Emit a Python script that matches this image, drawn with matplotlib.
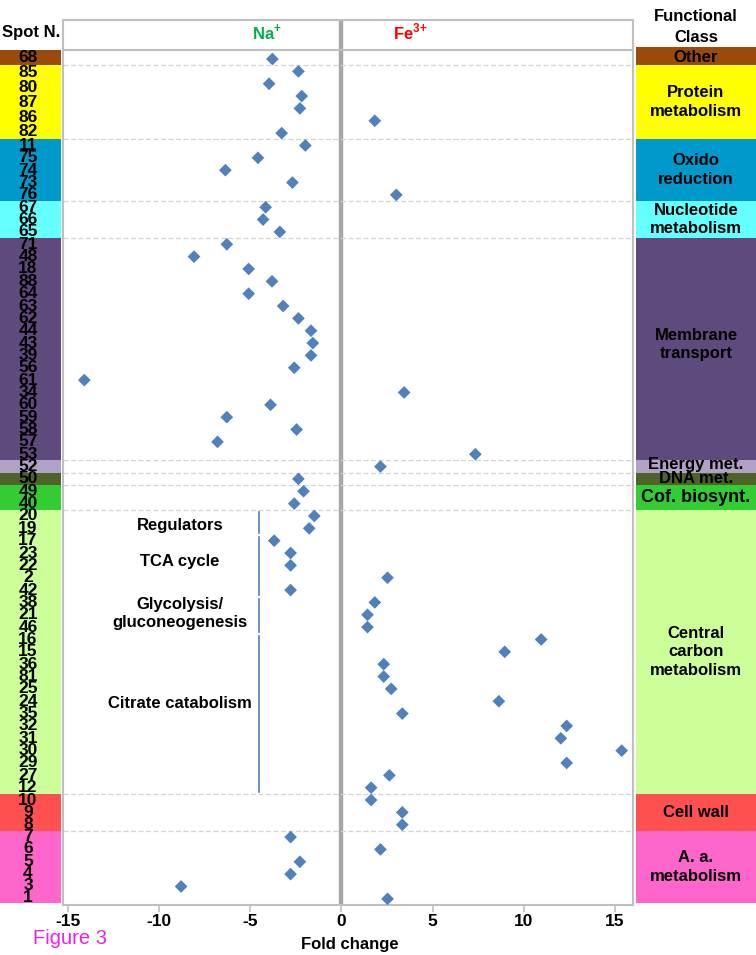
import matplotlib
matplotlib.use("Agg")
import matplotlib.pyplot as plt

plt.rcParams['font.family'] = ['Liberation Sans', 'DejaVu Sans']
plt.rcParams['mathtext.fontset'] = 'custom'
plt.rcParams['mathtext.rm'] = 'Liberation Sans'
plt.rcParams['mathtext.bf'] = 'Liberation Sans:bold'

# ---------------- data ----------------
class_names = ["Other", "Protein\nmetabolism", "Oxido\nreduction", "Nucleotide\nmetabolism",
               "Membrane\ntransport", "Energy met.", "DNA met.", "Cof. biosynt.",
               "Central\ncarbon\nmetabolism", "Cell wall", "A. a.\nmetabolism"]
class_colors = ["#9A4A0A", "#FFFF00", "#0099CC", "#66FFFF", "#5E4A7D", "#B2A1C7",
                "#4F6228", "#33CC33", "#CCFF99", "#FF5050", "#FF66CC"]

spots_other = ["68"]
spots_protein = ["85", "80", "87", "86", "82"]
spots_oxido = ["11", "75", "74", "73", "76"]
spots_nucleotide = ["67", "66", "65"]
spots_membrane = ["71", "48", "18", "88", "64", "63", "62", "44", "43", "39", "56", "61",
                  "34", "60", "59", "58", "57", "53"]
spots_energy = ["52"]
spots_dna = ["50"]
spots_cofactor = ["49", "40"]
spots_central = ["20", "19", "17", "23", "22", "2", "42", "38", "21", "46", "16", "15",
                 "36", "81", "25", "24", "35", "32", "31", "30", "29", "27", "12"]
spots_cellwall = ["10", "9", "8"]
spots_aa = ["7", "6", "5", "4", "3", "1"]

fc_other = [-3.79]
fc_protein = [-2.36, -3.97, -2.18, -2.28, 1.83, -3.28]
fc_oxido = [-1.98, -4.58, -6.37, -2.69, 3.01]
fc_nucleotide = [-4.16, -4.30, -3.38]
fc_membrane = [-6.29, -8.09, -5.09, -3.81, -5.09, -3.20, -2.36, -1.67, -1.57, -1.67,
               -2.59, -14.11, 3.44, -3.89, -6.29, -2.46, -6.80, 7.35]
fc_energy = [2.14]
fc_dna = [-2.36]
fc_cofactor = [-2.08, -2.59]
fc_central = [-1.49, -1.77, -3.69, -2.79, -2.79, 2.53, -2.79, 1.83, 1.43, 1.43, 10.96,
              8.96, 2.32, 2.32, 2.73, 8.64, 3.34, 12.36, 12.04, 15.38, 12.36, 2.63, 1.63]
fc_cellwall = [1.63, 3.34, 3.34]
fc_aa = [-2.79, 2.14, -2.28, -2.79, -8.80, 2.53]

spot_groups = [spots_other, spots_protein, spots_oxido, spots_nucleotide, spots_membrane,
               spots_energy, spots_dna, spots_cofactor, spots_central, spots_cellwall, spots_aa]
fc_groups = [fc_other, fc_protein, fc_oxido, fc_nucleotide, fc_membrane, fc_energy,
             fc_dna, fc_cofactor, fc_central, fc_cellwall, fc_aa]

# sub-categories inside central carbon metabolism (number of rows each)
sub_names = ["Regulators", "TCA cycle", "Glycolysis/\ngluconeogenesis", "Citrate catabolism"]
sub_sizes = [2, 5, 3, 13]

xticks = [-15, -10, -5, 0, 5, 10, 15]
xtick_labels = ["-15", "-10", "-5", "0", "5", "10", "15"]

# ---------------- layout ----------------
W, H = 756, 955
fig = plt.figure(figsize=(W / 100, H / 100), dpi=100)


def px_axes(x0, y0, x1, y1):
    return fig.add_axes([x0 / W, 1 - y1 / H, (x1 - x0) / W, (y1 - y0) / H])


ax = px_axes(63, 20, 633, 905)
axL = px_axes(0, 20, 61, 905)
axR = px_axes(636, 20, 756, 905)

YTOP, YBOT = -3.16, 68.5
HEADER = -0.73
for a in (ax, axL, axR):
    a.set_ylim(YBOT, YTOP)
for a in (axL, axR):
    a.set_xlim(0, 1)
    a.axis('off')

ax.set_xlim(-15.28, 16.0)
GRAY = "#BFBFBF"
for s in ax.spines.values():
    s.set_color(GRAY)
    s.set_linewidth(1.5)
ax.set_yticks([])
ax.set_xticks(xticks)
ax.set_xticklabels(xtick_labels, fontweight='bold', fontsize=12.5)
ax.tick_params(axis='x', direction='out', length=5, width=1.2, color=GRAY, pad=1.5)

ax.axvline(0, color="#A6A6A6", lw=3.2, zorder=1)
ax.axhline(HEADER, color=GRAY, lw=1.5, zorder=1)

total_rows = sum(len(v) for v in fc_groups)
start = 0
for gi, (name, col, spots, vals) in enumerate(zip(class_names, class_colors, spot_groups, fc_groups)):
    n = len(vals)
    ys = list(range(start, start + n))
    ax.scatter(vals, ys, marker='D', s=42, color="#4F81BD", edgecolors='none', zorder=3)
    top = HEADER if gi == 0 else start - 0.5
    bot = 68.35 if start + n == total_rows else start + n - 0.5
    axL.axhspan(top, bot, color=col, lw=0)
    axR.axhspan(top - (0.22 if gi == 0 else 0), bot, color=col, lw=0)
    k = len(spots)
    for i, lab in enumerate(spots):
        yy = top + (i + 0.5) * (bot - top) / k
        axL.text(0.46, yy, lab, ha='center', va='center', fontsize=12.5, fontweight='bold',
                 color='black')
    ry = (top + bot) / 2
    if name.startswith("Membrane"):
        ry -= 0.4
    if name.startswith("Energy"):
        ry -= 0.2
    axR.text(0.5, ry, name, ha='center', va='center',
             fontsize=13 if name.startswith("Cof") else 12,
             fontweight='bold', color='black', linespacing=1.3)
    if start + n < total_rows:
        ax.axhline(start + n - 0.5, color="#D4D4D4", lw=0.9, ls=(0, (4, 2)), zorder=1)
    if name.startswith("Central"):
        s0 = start
        sub_text_y = [0.3, -0.35, -0.1, -0.8]
        for sn, sz, dy in zip(sub_names, sub_sizes, sub_text_y):
            ax.plot([-4.52, -4.52], [s0 - 0.3, s0 + sz - 1 + 0.37], color="#4F81BD", lw=1.2, zorder=2)
            ax.text(-8.85, s0 + (sz - 1) / 2 + dy, sn, ha='center', va='center', fontsize=12,
                    fontweight='bold', linespacing=1.2)
            s0 += sz
    start += n

# header texts
ax.text(-4.1, -2.19, r'Na$^{\mathbf{+}}$', color="#00B050", fontsize=12, fontweight='bold',
        ha='center', va='center')
ax.text(3.76, -2.19, r'Fe$^{\mathbf{3{+}}}$', color="#FF0000", fontsize=12, fontweight='bold',
        ha='center', va='center')
fig.text(31 / W, 1 - 32 / H, "Spot N.", ha='center', va='center', fontsize=12, fontweight='bold')
fig.text(696 / W, 1 - 27 / H, "Functional\nClass", ha='center', va='center', fontsize=12,
         fontweight='bold', linespacing=1.5)
fig.text(350 / W, 1 - 944 / H, "Fold change", ha='center', va='center', fontsize=12,
         fontweight='bold')
fig.text(33 / W, 1 - 938 / H, "Figure 3", ha='left', va='center', fontsize=14.5,
         color="#F01EE8")

fig.savefig("out.png", dpi=100)
